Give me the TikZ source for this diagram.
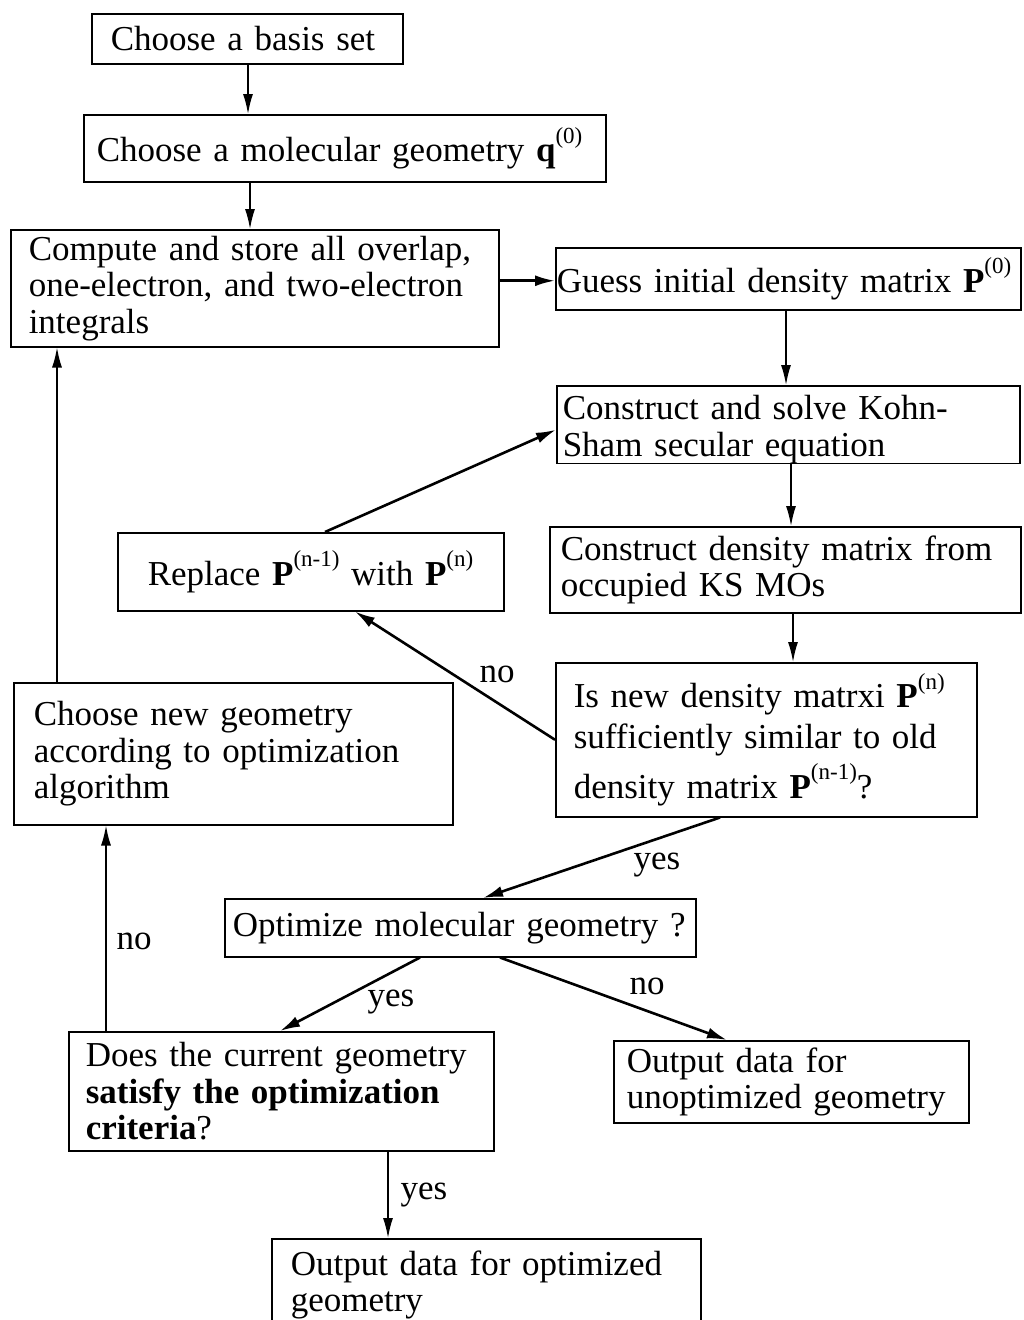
\documentclass[tikz,border=0pt]{standalone}
\usepackage{fontspec}
\setmainfont{Liberation Serif}
\usetikzlibrary{arrows.meta,calc}
\newcommand{\sps}[1]{\raisebox{0.52em}{\fontsize{23}{23}\selectfont #1}}
\begin{document}
\begin{tikzpicture}[x=1pt,y=-1pt,
  box/.style={draw, line width=1.5pt, anchor=north west, align=left, inner ysep=0pt,
    font=\fontsize{35}{36.5}\selectfont},
  lbl/.style={font=\fontsize{35}{36.5}\selectfont, inner sep=0pt, anchor=base},
  arr/.style={line width=1.5pt, -{Latex[length=20pt,width=10pt]}},
  darr/.style={line width=2.6pt, -{Latex[length=20pt,width=11pt]}}]
\useasboundingbox (0,0) rectangle (1024,1320);

\node[box, minimum width=311pt, minimum height=50pt, inner xsep=19pt, text width=273pt] (b1) at (91,13)
  {\mbox{Choose a basis set}};
\node[box, minimum width=522pt, minimum height=67pt, inner xsep=13pt, text width=496pt] (b2) at (83,114)
  {\mbox{Choose a molecular geometry \textbf{q}\sps{(0)}}};
\node[box, minimum width=488pt, minimum height=117pt, inner xsep=18pt, text width=452pt] (b3) at (10,229)
  {\mbox{Compute and store all overlap,}\\\mbox{one-electron, and two-electron}\\\mbox{integrals}};
\node[box, minimum width=465pt, minimum height=62pt, inner xsep=1pt, text width=463pt] (b4) at (555,247)
  {\mbox{Guess initial density matrix \textbf{P}\sps{(0)}}};
\node[box, minimum width=463pt, minimum height=76pt, inner xsep=6pt, text width=451pt] (b5) at (556,385)
  {\mbox{\rule{0pt}{34pt}Construct and solve Kohn-}\\\mbox{Sham secular equation}};
\node[box, minimum width=471pt, minimum height=86pt, inner xsep=11pt, text width=449pt] (b6) at (549,526)
  {\mbox{Construct density matrix from}\\\mbox{occupied KS MOs}};
\node[box, minimum width=421pt, minimum height=154pt, inner xsep=18pt, text width=385pt] (b7) at (555,662)
  {\mbox{Is new density matrxi \textbf{P}\sps{(n)}}\\[4pt]\mbox{sufficiently similar to old}\\[7pt]\mbox{density matrix \textbf{P}\sps{(n-1)}?}};
\node[box, minimum width=386pt, minimum height=78pt, inner xsep=30pt, text width=326pt] (b8) at (117,532)
  {\mbox{Replace \textbf{P}\sps{(n-1)} with \textbf{P}\sps{(n)}}};
\node[box, minimum width=439pt, minimum height=142pt, inner xsep=20pt, text width=399pt] (b9) at (13,682)
  {\mbox{Choose new geometry}\\\mbox{according to optimization}\\\mbox{algorithm}};
\node[box, minimum width=471pt, minimum height=58pt, inner xsep=8pt, text width=455pt] (b10) at (224,898)
  {\mbox{Optimize molecular geometry ?}};
\node[box, minimum width=425pt, minimum height=119pt, inner xsep=17pt, text width=391pt] (b11) at (68,1031)
  {\mbox{Does the current geometry}\\\mbox{\textbf{satisfy the optimization}}\\\mbox{\textbf{criteria}?}};
\node[box, minimum width=355pt, minimum height=82pt, inner xsep=13pt, text width=329pt] (b12) at (613,1040)
  {\mbox{Output data for}\\\mbox{unoptimized geometry}};
\node[box, minimum width=429pt, minimum height=92pt, inner xsep=19pt, text width=391pt] (b13) at (271,1238)
  {\mbox{Output data for optimized}\\\mbox{geometry}};

% connectors
\draw[arr] ($(b1.south west)+(157,0)$) coordinate (p1) -- (p1 |- b2.north);
\draw[arr] ($(b2.south west)+(167,0)$) coordinate (p2) -- (p2 |- b3.north);
\draw[darr] ($(b3.east)+(0,-7.5)$) coordinate (p3) -- (p3 -| b4.west);
\draw[arr] ($(b4.south west)+(231,0)$) coordinate (p4) -- (p4 |- b5.north);
\draw[arr] ($(b5.south west)+(235,0)$) coordinate (p5) -- (p5 |- b6.north);
\draw[arr] ($(b6.south west)+(244,0)$) coordinate (p6) -- (p6 |- b7.north);
\draw[darr] (b7.west) -- ($(b8.south west)+(238,0)$);
\draw[darr] ($(b8.north west)+(208,0)$) -- ($(b5.west)+(0,5)$);
\draw[arr] ($(b9.north west)+(44,0)$) coordinate (p9) -- (p9 |- b3.south);
\draw[darr] ($(b7.south west)+(165,0)$) -- ($(b10.north west)+(259,0)$);
\draw[darr] ($(b10.south west)+(196,0)$) -- ($(b11.north west)+(212,0)$);
\draw[darr] ($(b10.south west)+(276,0)$) -- ($(b12.north west)+(114,0)$);
\draw[arr] ($(b11.north west)+(38,0)$) coordinate (p11) -- (p11 |- b9.south);
\draw[arr] ($(b11.south west)+(320,0)$) coordinate (p12) -- (p12 |- b13.north);

% labels
\node[lbl] (l1) at (497,682) {no};
\node[lbl] (l2) at (657,869) {yes};
\node[lbl] (l3) at (391,1006) {yes};
\node[lbl] (l4) at (647,994) {no};
\node[lbl] (l5) at (134,949) {no};
\node[lbl] (l6) at (424,1199) {yes};
\end{tikzpicture}
\end{document}
